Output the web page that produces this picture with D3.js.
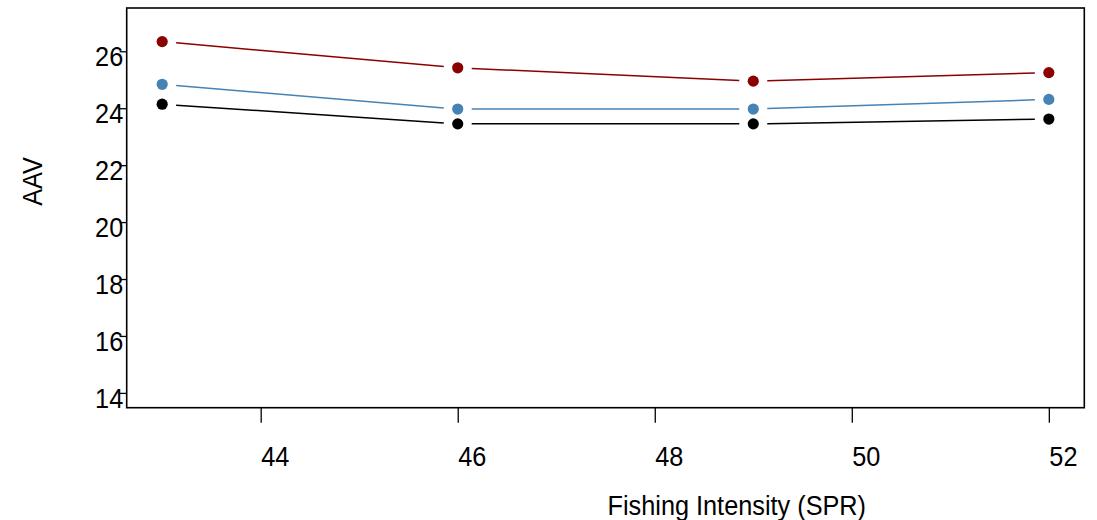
<!DOCTYPE html>
<html>
<head>
<meta charset="utf-8">
<script src="https://cdn.jsdelivr.net/npm/d3@7"></script>
<style>
  body { margin: 0; background: #fff; }
  svg { display: block; font-family: "Liberation Sans", Arial, sans-serif; }
</style>
</head>
<body>
<svg id="chart" width="1097" height="520"></svg>
<script>
const spr = [43, 46, 49, 52];
const aavRed = [26.34, 25.42, 24.95, 25.25];
const aavBlue = [24.84, 23.97, 23.97, 24.31];
const aavBlack = [24.14, 23.45, 23.45, 23.62];
const xTicks = [44, 46, 48, 50, 52];
const yTicks = [14, 16, 18, 20, 22, 24, 26];

const width = 1097;
const height = 520;
const plotLeft = 126.7, plotRight = 1084.3, plotTop = 8, plotBottom = 407.7;
const gap = 14; // type="b" gap around points
const fontSize = 27.5;
const squeeze = 0.92; // text in the reference is a bit narrow for its height

const series = [
  { color: '#8b0000', values: aavRed },
  { color: '#4682b4', values: aavBlue },
  { color: '#000000', values: aavBlack },
];

// R style 4% axis expansion of xlim c(43,52) and ylim c(14,27)
const xscale = d3.scaleLinear().domain([42.64, 52.36]).range([plotLeft, plotRight]);
const yscale = d3.scaleLinear().domain([13.48, 27.52]).range([plotBottom, plotTop]);

const svg = d3.select('#chart');

// x axis
const bottomAxis = d3.axisBottom(xscale).tickValues(xTicks).tickSize(15).tickFormat(d3.format('d'));
const gx = svg.append('g')
  .attr('transform', `translate(0, ${plotBottom})`)
  .call(bottomAxis);
gx.select('.domain').remove();
gx.selectAll('line').attr('stroke', '#000').attr('stroke-width', 1.3);
gx.selectAll('text')
  .attr('x', null).attr('y', null).attr('dy', null)
  .attr('transform', `translate(0, 58) scale(${squeeze}, 1)`)
  .attr('text-anchor', 'start')
  .attr('font-size', fontSize).attr('fill', '#000');

// y axis
const leftAxis = d3.axisLeft(yscale).tickValues(yTicks).tickSize(7).tickFormat(d3.format('d'));
const gy = svg.append('g')
  .attr('transform', `translate(${plotLeft}, 0)`)
  .call(leftAxis);
gy.select('.domain').remove();
gy.selectAll('line').attr('stroke', '#000').attr('stroke-width', 1.3);
gy.selectAll('text')
  .attr('x', null).attr('y', null).attr('dy', null)
  .attr('transform', `translate(-3.5, 14.5) scale(${squeeze}, 1)`)
  .attr('text-anchor', 'end')
  .attr('font-size', fontSize).attr('fill', '#000');
gy.selectAll('line').raise();

// box
svg.append('rect')
  .attr('x', plotLeft).attr('y', plotTop)
  .attr('width', plotRight - plotLeft).attr('height', plotBottom - plotTop)
  .attr('fill', 'none').attr('stroke', '#000').attr('stroke-width', 1.6);

// lines with gaps + points
const lines = svg.append('g');
series.forEach((s) => {
  const pts = spr.map((d, i) => [xscale(d), yscale(s.values[i])]);
  const segs = d3.pairs(pts).map(([a, b]) => {
    const dx = b[0] - a[0], dy = b[1] - a[1];
    const len = Math.hypot(dx, dy);
    const ux = dx / len, uy = dy / len;
    return [a[0] + ux * gap, a[1] + uy * gap, b[0] - ux * gap, b[1] - uy * gap];
  });
  const g = lines.append('g');
  g.selectAll('line')
    .data(segs)
    .enter().append('line')
      .attr('x1', (d) => d[0]).attr('y1', (d) => d[1])
      .attr('x2', (d) => d[2]).attr('y2', (d) => d[3])
      .attr('stroke', s.color).attr('stroke-width', 1.5);
  g.selectAll('circle')
    .data(spr)
    .enter().append('circle')
      .attr('cx', (d) => xscale(d))
      .attr('cy', (d, i) => yscale(s.values[i]))
      .attr('r', 5.6)
      .attr('fill', s.color);
});

// axis titles
svg.append('text')
  .text('Fishing Intensity (SPR)')
  .attr('transform', `translate(${(plotLeft + plotRight) / 2 + 2}, 515) scale(${squeeze}, 1)`)
  .attr('font-size', fontSize).attr('fill', '#000');

svg.append('text')
  .text('AAV')
  .attr('transform', `translate(42, ${(plotTop + plotBottom) / 2 - 2}) rotate(-90) scale(${squeeze}, 1)`)
  .attr('font-size', fontSize).attr('fill', '#000');
</script>
</body>
</html>
